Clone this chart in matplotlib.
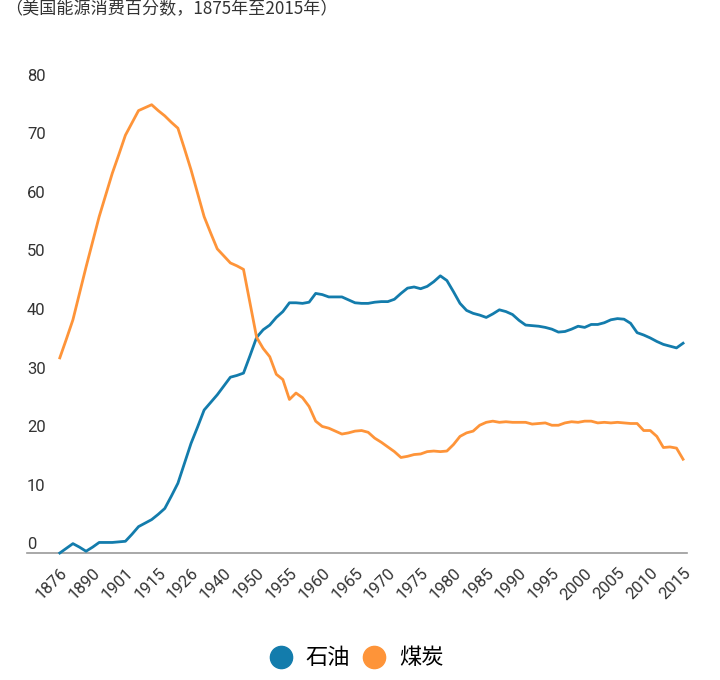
import matplotlib
matplotlib.use("Agg")
import matplotlib.pyplot as plt
import matplotlib.transforms as mtransforms
from matplotlib.lines import Line2D

plt.rcParams["font.family"] = ["Roboto", "Noto Sans CJK SC", "DejaVu Sans"]

# category labels: only every 5th category is labelled on the axis
tick_labels = ["1876", "1890", "1901", "1915", "1926", "1940", "1950", "1955",
               "1960", "1965", "1970", "1975", "1980", "1985", "1990", "1995",
               "2000", "2005", "2010", "2015"]

oil = [0.0, 0.8, 1.6, 1.0, 0.3, 1.0, 1.8, 1.8, 1.8, 1.9,
       2.0, 3.2, 4.5, 5.1, 5.7, 6.6, 7.6, 9.7, 11.9, 15.3,
       18.7, 21.5, 24.4, 25.7, 27.0, 28.5, 30.0, 30.3, 30.7, 33.7,
       36.8, 38.1, 38.9, 40.2, 41.2, 42.7, 42.7, 42.6, 42.8, 44.3,
       44.1, 43.7, 43.7, 43.7, 43.2, 42.7, 42.6, 42.6, 42.8, 42.9,
       42.9, 43.3, 44.3, 45.2, 45.4, 45.1, 45.5, 46.3, 47.3, 46.5,
       44.6, 42.6, 41.4, 40.9, 40.6, 40.2, 40.8, 41.5, 41.2, 40.7,
       39.7, 38.9, 38.8, 38.7, 38.5, 38.2, 37.7, 37.8, 38.2, 38.7,
       38.5, 39.0, 39.0, 39.3, 39.8, 40.0, 39.9, 39.2, 37.6, 37.2,
       36.7, 36.1, 35.6, 35.3, 35.0, 35.8]

coal = [33.3, 36.5, 39.8, 44.3, 48.8, 53.1, 57.4, 61.1, 64.8, 68.0,
        71.3, 73.4, 75.5, 76.0, 76.5, 75.5, 74.6, 73.5, 72.5, 69.0,
        65.4, 61.4, 57.4, 54.6, 51.9, 50.7, 49.5, 49.0, 48.4, 42.6,
        36.8, 34.9, 33.5, 30.5, 29.6, 26.2, 27.3, 26.5, 25.0, 22.5,
        21.6, 21.3, 20.8, 20.3, 20.5, 20.8, 20.9, 20.6, 19.6, 18.9,
        18.1, 17.3, 16.3, 16.5, 16.8, 16.9, 17.3, 17.4, 17.3, 17.4,
        18.5, 19.9, 20.5, 20.8, 21.8, 22.3, 22.5, 22.3, 22.4, 22.3,
        22.3, 22.3, 22.0, 22.1, 22.2, 21.8, 21.8, 22.2, 22.4, 22.3,
        22.5, 22.5, 22.2, 22.3, 22.2, 22.3, 22.2, 22.1, 22.1, 20.9,
        20.9, 19.9, 18.0, 18.1, 17.9, 16.0]

series_names = ["石油", "煤炭"]
colors = ["#137cac", "#fe9439"]

fig = plt.figure(figsize=(7.2, 6.8), dpi=100)
ax = fig.add_axes([27 / 720, 127 / 680, 660 / 720, 480.5 / 680])

idx = list(range(len(oil)))
ax.plot(idx, oil, color=colors[0], lw=2.0, clip_on=False, zorder=3)
ax.plot(idx, coal, color=colors[1], lw=2.0, clip_on=False, zorder=3)

ax.set_xlim(-5.0, 95.6)
ax.set_ylim(0, 82)

for s in ["top", "right", "left"]:
    ax.spines[s].set_visible(False)
ax.spines["bottom"].set_color("#9a9a9a")
ax.spines["bottom"].set_linewidth(1.2)

ax.set_xticks(idx[::5])
ax.set_xticklabels(tick_labels, rotation=45, ha="right", va="top",
                   rotation_mode="anchor", fontsize=12, color="#333333")
ax.tick_params(axis="x", length=0, pad=9)

ax.set_yticks(range(0, 90, 10))
ax.set_yticklabels([str(v) for v in range(0, 90, 10)], fontsize=12,
                   color="#333333")
ax.tick_params(axis="y", length=0, pad=0)
shift = mtransforms.ScaledTranslation(0, 0.5 / 72, fig.dpi_scale_trans)
for lbl in ax.get_yticklabels():
    lbl.set_horizontalalignment("left")
    lbl.set_verticalalignment("bottom")
    lbl.set_transform(lbl.get_transform() + shift)

fig.text(5 / 720, 1 - 9 / 680, "（美国能源消费百分数，1875年至2015年）",
         fontsize=12.3, color="#333333", va="center", ha="left",
         family=["Noto Sans CJK SC", "DejaVu Sans"])

handles = [Line2D([], [], ls="none", marker="o", markersize=16,
                  markerfacecolor=c, markeredgecolor=c) for c in colors]
fig.legend(handles, series_names, loc="center",
           bbox_to_anchor=(356.5 / 720, 22 / 680), ncol=2, frameon=False,
           handlelength=1.0, handletextpad=0.6, columnspacing=0.6,
           prop={"family": ["Noto Sans CJK SC", "DejaVu Sans"], "size": 16})

fig.savefig("out.png", dpi=100)
